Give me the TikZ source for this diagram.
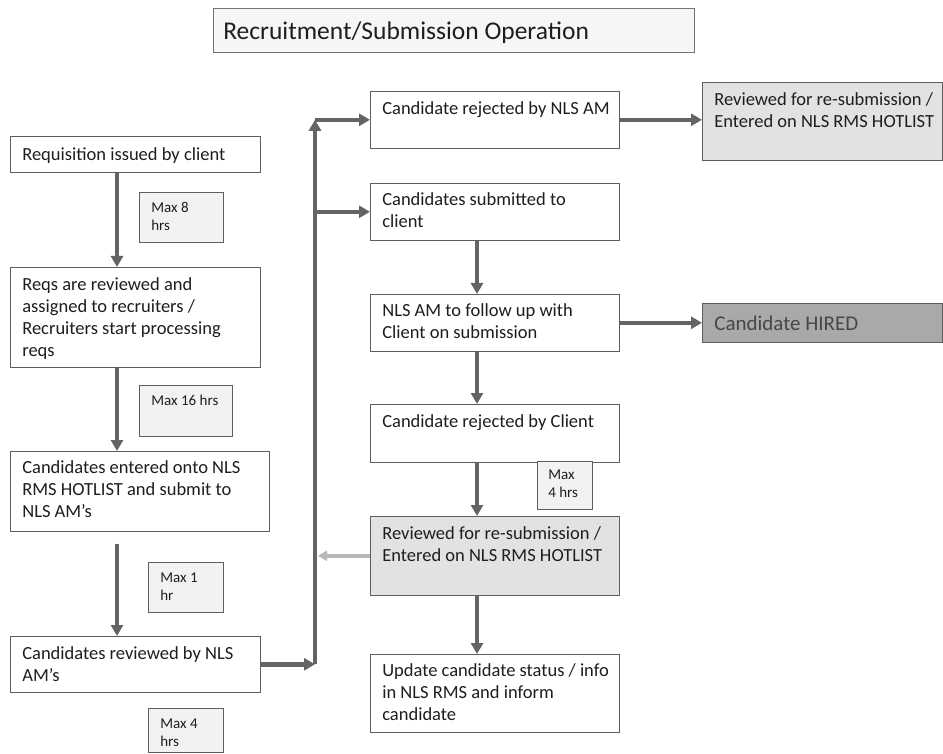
\documentclass[tikz,border=0pt]{standalone}
\usepackage{fontspec}
\setmainfont{Carlito}
\usetikzlibrary{arrows.meta,calc}
\definecolor{txt}{HTML}{1E1E1E}
\definecolor{edge}{HTML}{5E5E5E}
\definecolor{arr}{HTML}{646464}
\definecolor{lgfill}{HTML}{E2E2E2}
\definecolor{hfill}{HTML}{A9A9A9}
\definecolor{lbfill}{HTML}{F2F2F2}
\definecolor{ttlfill}{HTML}{F6F6F6}
\definecolor{pale}{HTML}{B8B8B8}
\newcommand\pbx[4]{\parbox[t][#2][t]{#1}{\hfuzz=50pt\rule{0pt}{#3}\begin{tabular}[t]{@{}l@{}}#4\end{tabular}}}
\begin{document}
\begin{tikzpicture}[x=1pt,y=-1pt,
  box/.style={draw=edge, line width=0.6pt, fill=white, anchor=north west,
    inner xsep=12pt, inner ysep=0pt, text=txt, font=\fontsize{18.5}{22}\selectfont},
  graybox/.style={box, fill=lgfill},
  lab/.style={box, fill=lbfill, inner xsep=12pt, font=\fontsize{15}{18}\selectfont},
  fat/.style={draw=arr, line width=4.5pt, -{Triangle[length=11pt,width=12pt]}},
  palearrow/.style={draw=pale, line width=3.5pt, -{Triangle[length=9pt,width=10pt]}}]
\useasboundingbox (0,0) rectangle (943,754);

% title
\node[box, fill=ttlfill, draw=black!55, inner xsep=10pt, font=\fontsize{25.5}{30}\selectfont] (title) at (213,8)
  {\pbx{461pt}{44pt}{31pt}{Recruitment/Submission Operation}};

% left column
\node[box] (b1) at (10,136) {\pbx{226pt}{36pt}{24pt}{Requisition issued by client}};
\node[box] (b2) at (10,267) {\pbx{226pt}{100pt}{23pt}{Reqs are reviewed and\\assigned to recruiters /\\Recruiters start processing\\reqs}};
\node[box] (b3) at (10,451) {\pbx{235pt}{80pt}{22pt}{Candidates entered onto NLS\\RMS HOTLIST and submit to\\NLS AM’s}};
\node[box] (b4) at (10,636) {\pbx{226pt}{56pt}{23pt}{Candidates reviewed by NLS\\AM’s}};

\node[lab] (l1) at (139,192) {\pbx{60pt}{50pt}{20pt}{Max 8\\hrs}};
\node[lab] (l2) at (139,385) {\pbx{69pt}{51pt}{20pt}{Max 16 hrs}};
\node[lab] (l3) at (148,562) {\pbx{51pt}{50pt}{20pt}{Max 1\\hr}};
\node[lab] (l4) at (148,708) {\pbx{51pt}{44pt}{20pt}{Max 4\\hrs}};

% middle column
\node[box] (m1) at (370,91) {\pbx{225pt}{57pt}{23pt}{Candidate rejected by NLS AM}};
\node[box] (m2) at (370,183) {\pbx{225pt}{57pt}{22pt}{Candidates submitted to\\client}};
\node[box] (m3) at (370,294) {\pbx{225pt}{57pt}{22pt}{NLS AM to follow up with\\Client on submission}};
\node[box] (m4) at (370,404) {\pbx{225pt}{58pt}{23pt}{Candidate rejected by Client}};
\node[lab, inner xsep=11pt] (l5) at (537,461) {\pbx{33pt}{48pt}{18pt}{Max\\4 hrs}};
\node[graybox] (m5) at (370,516) {\pbx{225pt}{79pt}{23pt}{Reviewed for re-submission /\\Entered on NLS RMS HOTLIST}};
\node[box] (m6) at (370,654) {\pbx{225pt}{78pt}{22pt}{Update candidate status / info\\in NLS RMS and inform\\candidate}};

% right column
\node[graybox] (r1) at (702,82) {\pbx{216pt}{78pt}{23pt}{Reviewed for re-submission /\\Entered on NLS RMS HOTLIST}};
\node[box, fill=hfill, text=black!72, font=\fontsize{21}{25}\selectfont] (r2) at (702,303)
  {\pbx{216pt}{39pt}{27pt}{Candidate HIRED}};

% helper coordinates
\coordinate (colL) at (117,0);
\coordinate (colM) at (477,0);
\coordinate (vx) at (315,0);
\coordinate (jb) at (b4.east -| vx);
\coordinate (jt) at (m1.west -| vx);
\coordinate (j2) at (m2.west -| vx);
\coordinate (j5) at (m5.west -| vx);

% left column arrows
\draw[fat] (b1.south -| colL) -- (b2.north -| colL);
\draw[fat] (b2.south -| colL) -- (b3.north -| colL);
\draw[fat, shorten <=12pt] (b3.south -| colL) -- (b4.north -| colL);

% bus
\draw[fat] (b4.east) -- (jb);
\draw[fat] (jb) -- (jt);
\draw[fat] (jt) -- (m1.west);
\draw[fat] (j2) -- (m2.west);
\draw[palearrow, shorten >=3pt] (m5.west) -- (j5);

% middle column arrows
\draw[fat] (m2.south -| colM) -- (m3.north -| colM);
\draw[fat] (m3.south -| colM) -- (m4.north -| colM);
\draw[fat] (m4.south -| colM) -- (m5.north -| colM);
\draw[fat] (m5.south -| colM) -- (m6.north -| colM);

% to the right
\draw[fat] (m1.east) -- (m1.east -| r1.west);
\draw[fat] (m3.east) -- (m3.east -| r2.west);
\end{tikzpicture}
\end{document}
